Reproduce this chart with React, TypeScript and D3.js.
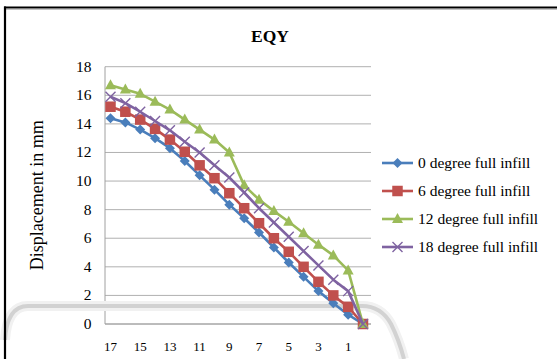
import React from "react";
import * as d3 from "d3";

// Storey levels along the x axis (top storey first)
const storeys = [17, 16, 15, 14, 13, 12, 11, 10, 9, 8, 7, 6, 5, 4, 3, 2, 1, 0];
const xTickLabels = [17, 15, 13, 11, 9, 7, 5, 3, 1];
const yTicks = [0, 2, 4, 6, 8, 10, 12, 14, 16, 18];

// Displacement (mm) per storey for each infill angle
const deg0 = [14.4, 14.1, 13.6, 13.0, 12.3, 11.4, 10.4, 9.4, 8.35, 7.4, 6.4, 5.35, 4.3, 3.3, 2.3, 1.45, 0.65, 0];
const deg6 = [15.2, 14.85, 14.3, 13.65, 12.9, 12.05, 11.1, 10.2, 9.15, 8.1, 7.05, 6.0, 5.05, 4.0, 2.95, 2.0, 1.2, 0];
const deg12 = [16.7, 16.4, 16.1, 15.55, 15.0, 14.3, 13.6, 12.9, 12.0, 9.7, 8.7, 7.9, 7.15, 6.35, 5.55, 4.8, 3.75, 0];
const deg18 = [15.9, 15.45, 14.85, 14.2, 13.55, 12.75, 12.0, 11.1, 10.25, 9.2, 8.1, 7.1, 6.1, 5.1, 4.1, 3.1, 2.3, 0];

const seriesNames = [
  "0 degree full infill",
  "6 degree full infill",
  "12 degree full infill",
  "18 degree full infill",
];
const seriesColors = ["#4a7ebb", "#c0504d", "#9bbb59", "#7f63a1"];
const seriesShapes = ["diamond", "square", "triangle", "cross"];
const seriesValues = [deg0, deg6, deg12, deg18];

const W = 557;
const H = 359;
const plot = { left: 105, right: 371, top: 66.7, bottom: 324 };
const FONT = "'Liberation Serif', 'Times New Roman', serif";

const x = d3.scalePoint<number>().domain(storeys).range([110.5, 363]);
const y = d3.scaleLinear().domain([0, 18]).range([plot.bottom, plot.top]);

function Marker({ shape, cx, cy, color }: { shape: string; cx: number; cy: number; color: string }) {
  if (shape === "diamond") {
    const r = 5;
    return <path d={`M${cx},${cy - r}L${cx + r},${cy}L${cx},${cy + r}L${cx - r},${cy}Z`} fill={color} />;
  }
  if (shape === "square") {
    const s = 10.5;
    return <rect x={cx - s / 2} y={cy - s / 2} width={s} height={s} fill={color} />;
  }
  if (shape === "triangle") {
    const h = 10;
    const w = 11;
    return <path d={`M${cx},${cy - h * 0.6}L${cx + w / 2},${cy + h * 0.4}L${cx - w / 2},${cy + h * 0.4}Z`} fill={color} />;
  }
  const r = 5;
  return (
    <path
      d={`M${cx - r},${cy - r}L${cx + r},${cy + r}M${cx - r},${cy + r}L${cx + r},${cy - r}`}
      stroke={color}
      strokeWidth={1.4}
      fill="none"
    />
  );
}

const bandPath = "M5,340 Q7,306 28,306 L362,306 Q381,306 391,324 Q399,340 404,359";

export default function App() {
  const line = d3
    .line<number>()
    .x((_, i) => x(storeys[i]) as number)
    .y((v) => y(v));

  const legendX = 382;
  const legendYs = [163, 191, 219, 247];

  return (
    <svg
      width={W}
      height={H}
      viewBox={`0 0 ${W} ${H}`}
      style={{ position: "fixed", left: 0, top: 0, background: "#fff" }}
    >
      <rect x={0} y={0} width={W} height={H} fill="#fff" />

      {/* title */}
      <text x={270} y={42} textAnchor="middle" fontFamily={FONT} fontWeight="bold" fontSize={17.5} fill="#000">
        EQY
      </text>

      {/* gridlines */}
      {yTicks.map((t) => (
        <line key={t} x1={plot.left} x2={plot.right} y1={y(t)} y2={y(t)} stroke="#b0b0b0" strokeWidth={1} />
      ))}
      <line x1={plot.left} x2={plot.left} y1={plot.top} y2={plot.bottom} stroke="#a0a0a0" strokeWidth={1} />
      <line x1={plot.left} x2={plot.right} y1={plot.bottom} y2={plot.bottom} stroke="#a0a0a0" strokeWidth={1} />

      {/* y tick labels */}
      {yTicks.map((t) => (
        <text key={t} x={91.5} y={y(t) + 5} textAnchor="end" fontFamily={FONT} fontSize={15.5} fill="#000">
          {t}
        </text>
      ))}

      {/* x tick labels */}
      {xTickLabels.map((s) => (
        <text key={s} x={x(s) as number} y={351} textAnchor="middle" fontFamily={FONT} fontSize={13} fill="#000">
          {s}
        </text>
      ))}

      {/* y axis title */}
      <text
        transform={`translate(43,${(plot.top + plot.bottom) / 2}) rotate(-90)`}
        textAnchor="middle"
        fontFamily={FONT}
        fontSize={18}
        fill="#000"
      >
        Displacement in mm
      </text>

      {/* rounded grey border line crossing the lower part */}
      <path d={bandPath} fill="none" stroke="#f1f1f1" strokeWidth={10} />
      <path d={bandPath} fill="none" stroke="#d2d2d2" strokeWidth={4} />

      {/* series */}
      {seriesValues.map((vals, si) => (
        <g key={si}>
          <path d={line(vals) ?? ""} fill="none" stroke={seriesColors[si]} strokeWidth={2.6} strokeLinejoin="round" />
          {vals.map((v, i) => (
            <Marker key={i} shape={seriesShapes[si]} cx={x(storeys[i]) as number} cy={y(v)} color={seriesColors[si]} />
          ))}
        </g>
      ))}

      {/* legend */}
      {seriesNames.map((name, si) => (
        <g key={name}>
          <line
            x1={legendX}
            x2={legendX + 31}
            y1={legendYs[si]}
            y2={legendYs[si]}
            stroke={seriesColors[si]}
            strokeWidth={2.6}
          />
          <Marker shape={seriesShapes[si]} cx={legendX + 15.5} cy={legendYs[si]} color={seriesColors[si]} />
          <text x={legendX + 36} y={legendYs[si] + 5} fontFamily={FONT} fontSize={15.5} fill="#000">
            {name}
          </text>
        </g>
      ))}

      {/* outer frame */}
      <line x1={4} x2={W} y1={9.5} y2={9.5} stroke="#c4c4c4" strokeWidth={1} />
      <line x1={4} x2={W} y1={7.5} y2={7.5} stroke="#000" strokeWidth={2.2} />
      <line x1={5} x2={5} y1={6.5} y2={H} stroke="#000" strokeWidth={2.2} />
    </svg>
  );
}
